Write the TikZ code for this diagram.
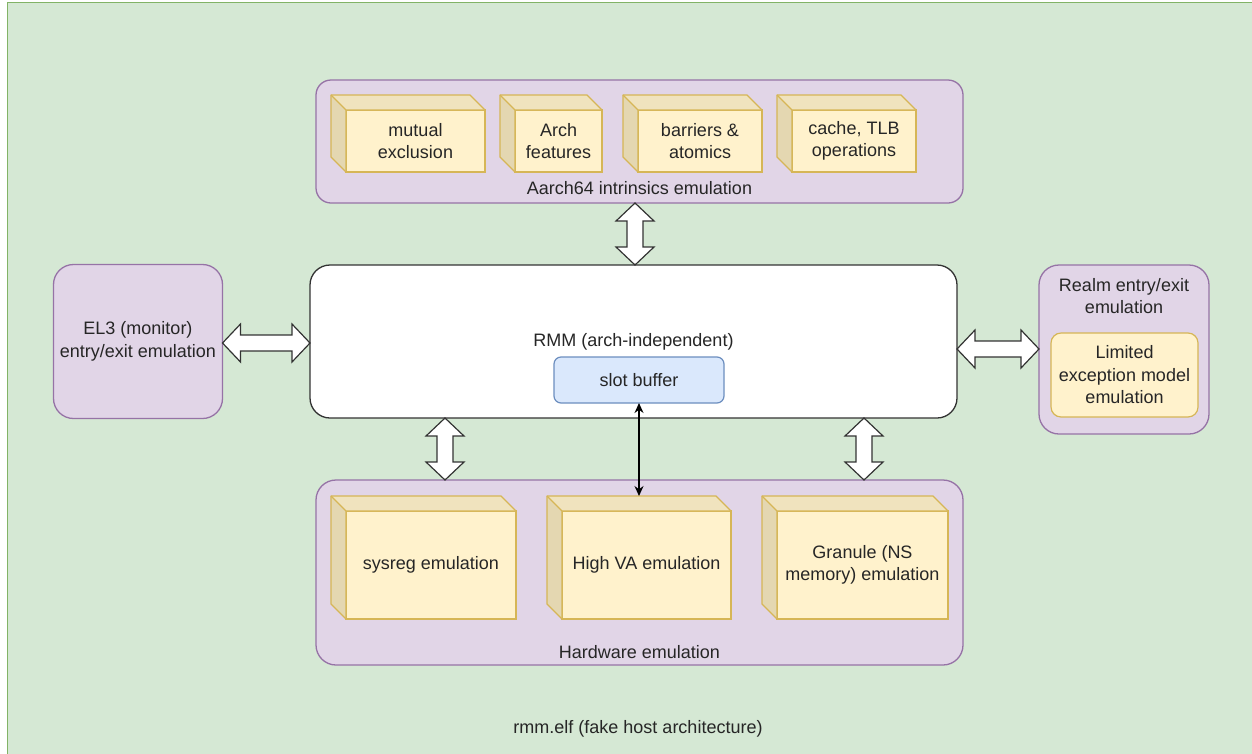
\documentclass[tikz,border=0pt]{standalone}
\usepackage{fontspec}
\setmainfont{Liberation Sans}
\usetikzlibrary{calc,arrows.meta}
\definecolor{gfill}{HTML}{D5E8D4}
\definecolor{gline}{HTML}{82B366}
\definecolor{pfill}{HTML}{E1D5E7}
\definecolor{pline}{HTML}{9673A6}
\definecolor{yfill}{HTML}{FFF2CC}
\definecolor{yline}{HTML}{D6B656}
\definecolor{ytop}{HTML}{F0E3BE}
\definecolor{yleft}{HTML}{E4D7B1}
\definecolor{bfill}{HTML}{DAE8FC}
\definecolor{bline}{HTML}{6C8EBF}
\definecolor{txt}{HTML}{262626}
\definecolor{dark}{HTML}{333333}
\tikzset{
  every node/.style={text=txt, font=\fontsize{18}{22.5}\selectfont},
  purplebox/.style={draw=pline, fill=pfill, line width=1.3pt, rounded corners=#1, outer sep=0pt},
  purplebox/.default=20pt,
  cubefront/.style={draw=yline, fill=yfill, line width=1.3pt, outer sep=0pt, align=center},
  flexarr/.style={draw=dark, fill=white, line width=1.2pt, line join=miter},
  lbl/.style={align=center, inner sep=0pt}
}
\newcommand\cubesides[1]{%
  \fill[yleft] (#1.north west) -- ++(-15,-15) -- ($(#1.south west)+(-15,-15)$) -- (#1.south west) -- cycle;
  \fill[ytop] (#1.north west) -- ++(-15,-15) -- ($(#1.north east)+(-15,-15)$) -- (#1.north east) -- cycle;
  \draw[yline, line width=1.3pt, line join=round] ($(#1.north west)+(-15,-15)$) -- ($(#1.north east)+(-15,-15)$) -- (#1.north east) -- (#1.south east) -- (#1.south west) -- ($(#1.south west)+(-15,-15)$) -- cycle;
  \draw[yline, line width=1.3pt, line join=round] (#1.south west) -- (#1.north west) -- (#1.north east) (#1.north west) -- ++(-15,-15);
}
\newcommand\flexH[2]{%
  \draw[flexarr] let \p1=(#1), \p2=(#2) in
   (\x1,\y1) -- (\x1+18pt,\y1+19pt) -- (\x1+18pt,\y1+8pt) -- (\x2-18pt,\y1+8pt) -- (\x2-18pt,\y1+19pt)
   -- (\x2,\y1) -- (\x2-18pt,\y1-19pt) -- (\x2-18pt,\y1-8pt) -- (\x1+18pt,\y1-8pt) -- (\x1+18pt,\y1-19pt) -- cycle;}
\newcommand\flexV[2]{%
  \draw[flexarr] let \p1=(#1), \p2=(#2) in
   (\x1,\y1) -- (\x1+19pt,\y1-18pt) -- (\x1+8pt,\y1-18pt) -- (\x1+8pt,\y2+18pt) -- (\x1+19pt,\y2+18pt)
   -- (\x1,\y2) -- (\x1-19pt,\y2+18pt) -- (\x1-8pt,\y2+18pt) -- (\x1-8pt,\y1-18pt) -- (\x1-19pt,\y1-18pt) -- cycle;}
\begin{document}
\begin{tikzpicture}[x=1pt,y=-1pt]
\useasboundingbox (0,0) rectangle (1252,753);
% outer container
\draw[draw=gline, fill=gfill, line width=1.5pt] (7.5,2.5) rectangle (1290,790);
\node[lbl] (title) at (638,729) {rmm.elf (fake host architecture)};

% top container
\node[purplebox=15pt, minimum width=647pt, minimum height=123pt] (intr) at (639.5,141.5) {};
\node[lbl] (intrlbl) at (639.5,188) {Aarch64 intrinsics emulation};
\node[cubefront, minimum width=139pt, minimum height=62pt] (c1) at (415.5,141) {mutual\\exclusion};
\node[cubefront, minimum width=87pt, minimum height=62pt] (c2) at (558.5,141) {Arch\\features};
\node[cubefront, minimum width=124pt, minimum height=62pt] (c3) at (700,141) {barriers \&\\atomics};
\node[cubefront, minimum width=124pt, minimum height=62pt] (c4) at (854,141) {cache, TLB\\operations};
\cubesides{c1}\cubesides{c2}\cubesides{c3}\cubesides{c4}

% RMM
\node[draw=dark, fill=white, line width=1.3pt, rounded corners=20pt, minimum width=647pt, minimum height=153pt, outer sep=0pt] (rmm) at (633.5,341.5) {RMM (arch-independent)};
\node[draw=bline, fill=bfill, line width=1.2pt, rounded corners=7pt, minimum width=170pt, minimum height=46pt, outer sep=0pt] (slot) at (639,380) {slot buffer};

% EL3
\node[purplebox, minimum width=169pt, minimum height=154pt, align=center] (el3) at (138,341.5) {EL3 (monitor)\\entry/exit emulation};

% Realm
\node[purplebox, minimum width=170pt, minimum height=169pt] (realm) at (1124,349.5) {};
\node[lbl] (realmlbl) at (1124,296) {Realm entry/exit\\emulation};
\node[draw=yline, fill=yfill, line width=1.2pt, rounded corners=10pt, minimum width=147pt, minimum height=84pt, align=center, outer sep=0pt] (limit) at (1124.5,375) {Limited\\exception model\\emulation};

% Hardware container
\node[purplebox, minimum width=647pt, minimum height=185pt] (hw) at (639.5,572.5) {};
\node[lbl] (hwlbl) at (639.5,652) {Hardware emulation};
\node[cubefront, minimum width=170pt, minimum height=108pt] (b1) at (431,565) {sysreg emulation};
\node[cubefront, minimum width=169pt, minimum height=108pt] (b2) at (646.5,565) {High VA emulation};
\node[cubefront, minimum width=171pt, minimum height=108pt] (b3) at (862.5,565) {Granule (NS\\memory) emulation};
\cubesides{b1}\cubesides{b2}\cubesides{b3}

% connectors
\coordinate (ta) at ($(intr.south)+(-4.5,0)$);
\coordinate (tb) at ($(rmm.north)+(1.5,0)$);
\flexV{ta}{tb}
\coordinate (la) at ($(el3.east)+(0,1.5)$);
\coordinate (lb) at ($(rmm.west)+(0,1.5)$);
\flexH{la}{lb}
\coordinate (ra) at ($(rmm.east)+(0,7.5)$);
\coordinate (rb) at ($(realm.west)+(0,-0.5)$);
\flexH{ra}{rb}
\coordinate (ba) at ($(rmm.south)+(-188.5,0)$);
\coordinate (bb) at ($(hw.north)+(-194.5,0)$);
\flexV{ba}{bb}
\coordinate (ca) at ($(rmm.south)+(230.5,0)$);
\coordinate (cb) at ($(hw.north)+(224.5,0)$);
\flexV{ca}{cb}
\coordinate (hvtop) at ($(b2.north)+(-7.5,-15)$);
\draw[line width=1.3pt, black, {Stealth[length=10pt,width=9pt]}-{Stealth[length=10pt,width=9pt]}] (slot.south) -- (slot.south |- hvtop);
\end{tikzpicture}
\end{document}
